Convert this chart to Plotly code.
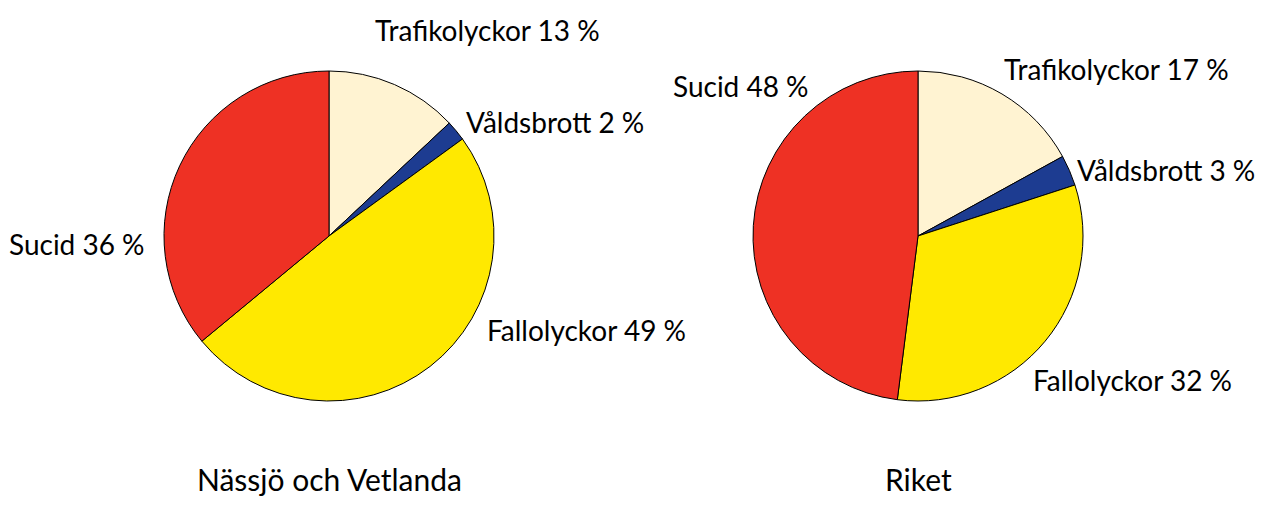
import plotly.graph_objects as go

categories = ["Trafikolyckor", "Våldsbrott", "Fallolyckor", "Sucid"]
nassjo_values = [13, 2, 49, 36]
riket_values = [17, 3, 32, 48]
titles = ["Nässjö och Vetlanda", "Riket"]
colors = ["#FFF3D2", "#1D3C91", "#FFE900", "#EE3124"]

OFF = 8  # page body margin
W, H = 1271 - 2 * OFF, 505 - 2 * OFF
FONT = "Lato"


def px_x(x):
    return (x - OFF) / W


def px_y(y):
    return 1 - (y - OFF) / H


fig = go.Figure()
doms = [
    dict(x=[px_x(329 - 165), px_x(329 + 165)], y=[px_y(401), px_y(71)]),
    dict(x=[px_x(918 - 165), px_x(918 + 165)], y=[px_y(401), px_y(71)]),
]
for vals, dom in zip([nassjo_values, riket_values], doms):
    fig.add_trace(go.Pie(
        labels=categories, values=vals, sort=False, direction="clockwise",
        rotation=0, domain=dom, textinfo="none", hoverinfo="label+percent",
        marker=dict(colors=colors, line=dict(color="black", width=1)),
        showlegend=False,
    ))

# label positions (pixels, reference image)
label_pos = [
    [(487, 30), (555, 122), (586, 330), (77, 244)],
    [(1116, 69), (1166, 170), (1132, 380), (741, 86)],
]
for vals, pos in zip([nassjo_values, riket_values], label_pos):
    for cat, v, (px, py) in zip(categories, vals, pos):
        fig.add_annotation(x=px_x(px), y=px_y(py), xref="paper", yref="paper",
                           text=f"{cat} {v} %", showarrow=False,
                           font=dict(family=FONT, size=28, color="black"),
                           xanchor="center", yanchor="middle")

for t, cx in zip(titles, [329, 918]):
    fig.add_annotation(x=px_x(cx), y=px_y(479), xref="paper", yref="paper",
                       text=t, showarrow=False,
                       font=dict(family=FONT, size=30, color="black"),
                       xanchor="center", yanchor="middle")

fig.update_layout(width=W, height=H, margin=dict(l=0, r=0, t=0, b=0),
                  paper_bgcolor="white", plot_bgcolor="white",
                  font=dict(family=FONT))
fig.write_html("out.html")
